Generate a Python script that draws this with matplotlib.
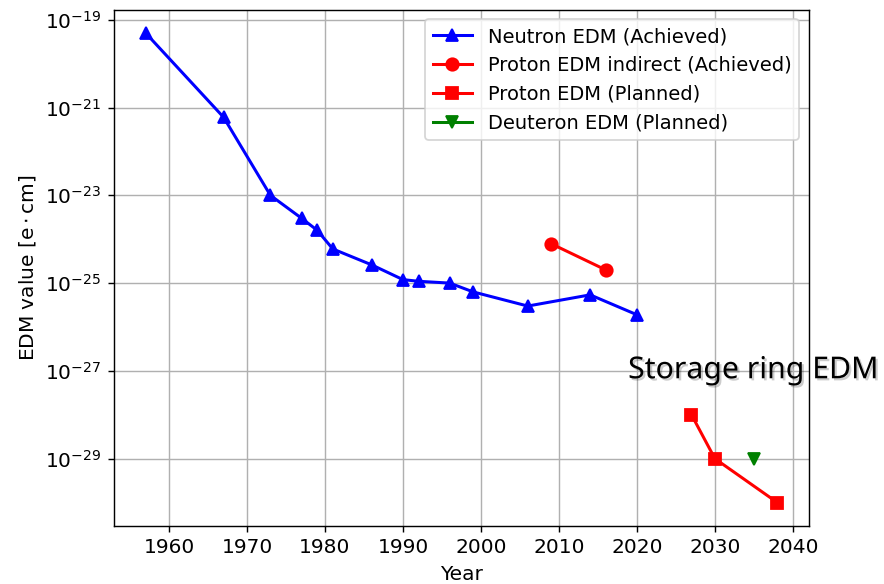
import matplotlib
matplotlib.use("Agg")
import matplotlib.pyplot as plt
import matplotlib.patheffects as pe

# neutron EDM limits (achieved)
neutron_years = [1957, 1967, 1973, 1977, 1979, 1981, 1986, 1990, 1992, 1996, 1999, 2006, 2014, 2020]
neutron_edm = [5e-20, 6e-22, 1e-23, 3e-24, 1.6e-24, 6e-25, 2.6e-25, 1.2e-25, 1.1e-25,
               1e-25, 6.3e-26, 3e-26, 5.4e-26, 1.9e-26]

# proton EDM, indirect (achieved)
proton_ind_years = [2009, 2016]
proton_ind_edm = [7.9e-25, 2e-25]

# proton EDM (planned)
proton_plan_years = [2027, 2030, 2038]
proton_plan_edm = [1e-28, 1e-29, 1e-30]

# deuteron EDM (planned)
deuteron_years = [2035]
deuteron_edm = [1e-29]

plt.rcParams['font.size'] = 11.3
plt.rcParams['lines.linewidth'] = 1.7
plt.rcParams['lines.markersize'] = 7

fig = plt.figure(figsize=(884 / 128, 584 / 128), dpi=128)
ax = fig.add_axes([0.129, 0.0993, 0.786, 0.8844])

ax.plot(neutron_years, neutron_edm, 'b^-', label='Neutron EDM (Achieved)')
ax.plot(proton_ind_years, proton_ind_edm, 'ro-', label='Proton EDM indirect (Achieved)')
ax.plot(proton_plan_years, proton_plan_edm, 'rs-', label='Proton EDM (Planned)')
ax.plot(deuteron_years, deuteron_edm, 'gv-', label='Deuteron EDM (Planned)')

ax.set_yscale('log')
ax.yaxis.set_minor_locator(matplotlib.ticker.NullLocator())
ax.set_xlabel('Year')
ax.set_ylabel(r'EDM value [$\mathrm{e \cdot cm}$]')
ax.grid(True)
ax.legend(loc='upper right', fontsize=11)

fig.text(0.7105, 0.366, 'Storage ring EDM', fontsize=17, family='Noto Sans',
         va='center', ha='left',
         path_effects=[pe.withSimplePatchShadow(offset=(1.2, -1.2), alpha=0.2)])

fig.savefig('out.png', dpi=128)
